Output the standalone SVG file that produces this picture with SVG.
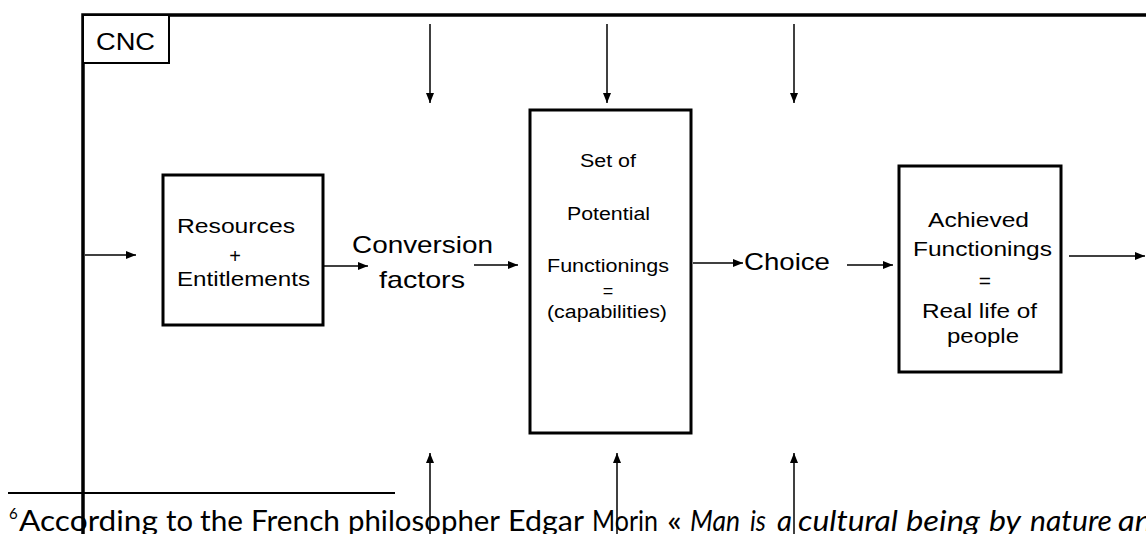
<svg xmlns="http://www.w3.org/2000/svg" width="1146" height="534" viewBox="0 0 1146 534">
<style>
.t{font-family:"Liberation Sans",Arial,sans-serif;fill:#000}
.f{font-family:Lato,"DejaVu Sans",sans-serif;font-weight:400;fill:#000;font-size:28px}
.fi{font-style:italic}
.box{fill:#fff;stroke:#000;stroke-width:3}
.ln{stroke:#000;stroke-width:1.5;fill:none;marker-end:url(#ah)}
</style>
<defs>
<marker id="ah" markerUnits="userSpaceOnUse" markerWidth="10" markerHeight="8" refX="10" refY="4" orient="auto"><path d="M0,0 L10,4 L0,8 z" fill="#000"/></marker>
</defs>
<rect width="1146" height="534" fill="#fff"/>
<g id="frame">
<path d="M83,534 V15 H1146" fill="none" stroke="#000" stroke-width="3.5"/>
</g>
<g id="cnc">
<rect x="83" y="15" width="86" height="48" fill="#fff" stroke="#000" stroke-width="2"/>
<text class="t" x="96" y="50" font-size="24" textLength="59" lengthAdjust="spacingAndGlyphs">CNC</text>
</g>
<g id="resources">
<rect class="box" x="163" y="175" width="160" height="150"/>
<text class="t" x="177" y="233" font-size="20" textLength="118" lengthAdjust="spacingAndGlyphs">Resources</text>
<text class="t" x="235" y="263" font-size="20" text-anchor="middle">+</text>
<text class="t" x="177" y="286" font-size="20" textLength="133" lengthAdjust="spacingAndGlyphs">Entitlements</text>
</g>
<g id="conversion">
<text class="t" x="352" y="253" font-size="24" textLength="141" lengthAdjust="spacingAndGlyphs">Conversion</text>
<text class="t" x="379" y="288" font-size="24" textLength="86" lengthAdjust="spacingAndGlyphs">factors</text>
</g>
<g id="potential">
<rect class="box" x="530" y="110" width="161" height="323"/>
<text class="t" x="580" y="167" font-size="18" textLength="56" lengthAdjust="spacingAndGlyphs">Set of</text>
<text class="t" x="567" y="220" font-size="18" textLength="83" lengthAdjust="spacingAndGlyphs">Potential</text>
<text class="t" x="547" y="272" font-size="18" textLength="122" lengthAdjust="spacingAndGlyphs">Functionings</text>
<text class="t" x="608" y="297" font-size="18" text-anchor="middle">=</text>
<text class="t" x="547" y="318" font-size="18" textLength="120" lengthAdjust="spacingAndGlyphs">(capabilities)</text>
</g>
<g id="choice">
<text class="t" x="744" y="270" font-size="24" textLength="86" lengthAdjust="spacingAndGlyphs">Choice</text>
</g>
<g id="achieved">
<rect class="box" x="899" y="166" width="162" height="206"/>
<text class="t" x="928" y="227" font-size="21" textLength="101" lengthAdjust="spacingAndGlyphs">Achieved</text>
<text class="t" x="913" y="256" font-size="21" textLength="139" lengthAdjust="spacingAndGlyphs">Functionings</text>
<text class="t" x="985" y="288" font-size="21" text-anchor="middle">=</text>
<text class="t" x="922" y="318" font-size="21" textLength="115" lengthAdjust="spacingAndGlyphs">Real life of</text>
<text class="t" x="947" y="343" font-size="21" textLength="72" lengthAdjust="spacingAndGlyphs">people</text>
</g>
<g id="connectors">
<line class="ln" x1="85" y1="255" x2="136" y2="255"/>
<line class="ln" x1="324" y1="266" x2="368" y2="266"/>
<line class="ln" x1="474" y1="265" x2="518" y2="265"/>
<line class="ln" x1="693" y1="263" x2="743" y2="263"/>
<line class="ln" x1="847" y1="265" x2="893" y2="265"/>
<line class="ln" x1="1069" y1="256" x2="1145" y2="256"/>
<line class="ln" x1="430" y1="24" x2="430" y2="103"/>
<line class="ln" x1="607" y1="24" x2="607" y2="103"/>
<line class="ln" x1="794" y1="24" x2="794" y2="103"/>
<line class="ln" x1="430" y1="534" x2="430" y2="453"/>
<line class="ln" x1="617" y1="534" x2="617" y2="453"/>
<line class="ln" x1="794" y1="534" x2="794" y2="453"/>
</g>
<g id="footnote">
<line x1="8" y1="493" x2="395" y2="493" stroke="#000" stroke-width="2"/>
<text class="f" x="9" y="519" style="font-size:15px">6</text>
<text class="f" x="19" y="531" textLength="139" lengthAdjust="spacingAndGlyphs">According</text>
<text class="f" x="166" y="531" textLength="27" lengthAdjust="spacingAndGlyphs">to</text>
<text class="f" x="200" y="531" textLength="43" lengthAdjust="spacingAndGlyphs">the</text>
<text class="f" x="251" y="531" textLength="89" lengthAdjust="spacingAndGlyphs">French</text>
<text class="f" x="348" y="531" textLength="152" lengthAdjust="spacingAndGlyphs">philosopher</text>
<text class="f" x="508" y="531" textLength="76" lengthAdjust="spacingAndGlyphs">Edgar</text>
<text class="f" x="592" y="531" textLength="66" lengthAdjust="spacingAndGlyphs">Morin</text>
<text class="f" x="667" y="531" textLength="15" lengthAdjust="spacingAndGlyphs">«</text>
<text class="f fi" x="690" y="531" textLength="50" lengthAdjust="spacingAndGlyphs">Man</text>
<text class="f fi" x="750" y="531" textLength="16" lengthAdjust="spacingAndGlyphs">is</text>
<text class="f fi" x="777" y="531" textLength="15" lengthAdjust="spacingAndGlyphs">a</text>
<text class="f fi" x="798" y="531" textLength="100" lengthAdjust="spacingAndGlyphs">cultural</text>
<text class="f fi" x="906" y="531" textLength="74" lengthAdjust="spacingAndGlyphs">being</text>
<text class="f fi" x="989" y="531" textLength="32" lengthAdjust="spacingAndGlyphs">by</text>
<text class="f fi" x="1030" y="531" textLength="82" lengthAdjust="spacingAndGlyphs">nature</text>
<text class="f fi" x="1118" y="531" textLength="34" lengthAdjust="spacingAndGlyphs">an</text>
</g>
</svg>
